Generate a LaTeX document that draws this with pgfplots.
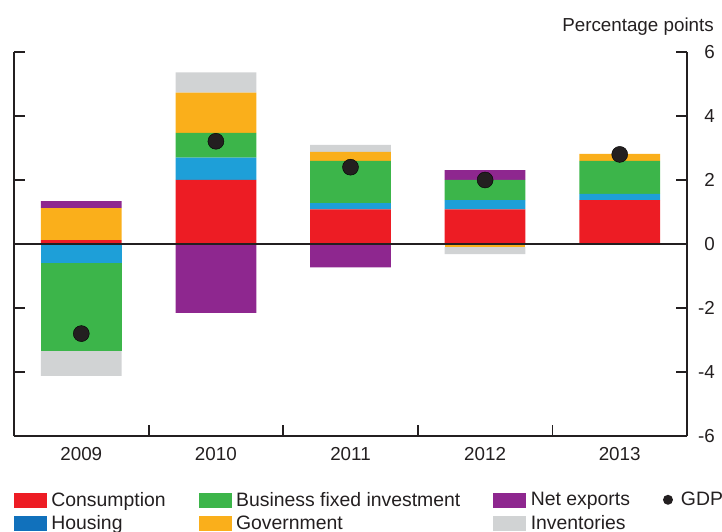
\documentclass[border=0pt]{standalone}
\usepackage{pgfplots}
\pgfplotsset{compat=1.18}
\usepackage{pgfplotstable}
\usepackage{fontspec}
\setmainfont{Liberation Sans}
\definecolor{cRed}{HTML}{ED1C24}
\definecolor{cBlue}{HTML}{1E9FD8}
\definecolor{cBlueL}{HTML}{1171BC}
\definecolor{cGreen}{HTML}{3CB54A}
\definecolor{cOrange}{HTML}{FAAF1B}
\definecolor{cPurple}{HTML}{8E278F}
\definecolor{cGray}{HTML}{D1D3D4}
\definecolor{cDark}{HTML}{231F20}
\newcommand\fs{\fontsize{18.8}{22}\selectfont}
\newcommand\fl{\fontsize{19.4}{22}\selectfont}

% positive contributions (stacked upward)
\pgfplotstableread{
x cons hous bfi gov nx inv
0 0.12 0    0    1.00 0.22 0
1 2.00 0.70 0.77 1.26 0    0.63
2 1.08 0.20 1.32 0.28 0    0.22
3 1.08 0.29 0.63 0    0.31 0
4 1.37 0.20 1.03 0.22 0    0
}\pos
% negative contributions (stacked downward)
\pgfplotstableread{
x cons hous bfi gov nx inv
0 0 -0.58 -2.76 0     0     -0.78
1 0 0     0     0     -2.15 0
2 0 0     0     0     -0.73 0
3 0 0     0     -0.10 0     -0.22
4 0 0     0     0     0     0
}\neg
\pgfplotstableread{
x gdp
0 -2.80
1 3.21
2 2.40
3 2.00
4 2.80
}\gdp

\pgfplotsset{
  base/.style={
    scale only axis, width=673pt, height=384pt,
    at={(14pt,95pt)}, anchor=south west,
    xmin=-0.5, xmax=4.5, ymin=-6, ymax=6,
  },
}

\begin{document}
\begin{tikzpicture}[font=\fs]
\path[use as bounding box] (0,0) rectangle (722pt,531pt);
\begin{axis}[base, ybar stacked, bar width=0.6,
  axis x line*=bottom, axis y line*=box,
  axis line style={line width=1.8pt, cDark},
  tick style={line width=1.8pt, cDark},
  tick align=inside, major tick length=11pt,
  ytick={-6,-4,-2,0,2,4,6},
  yticklabels={-6,-4,-2,0,2,4,6},
  yticklabel pos=right,
  yticklabel style={anchor=east, inner sep=0pt, xshift=28pt, font=\fs, text=cDark},
  xtick={-0.5,0.5,1.5,2.5,3.5,4.5},
  x tick label as interval,
  xticklabels={2009,2010,2011,2012,2013},
  xticklabel style={inner sep=0pt, yshift=-11pt, font=\fs, text=cDark},
  legend columns=4,
  legend cell align=left,
  legend style={draw=none, fill=none, inner sep=0pt, outer sep=0pt,
    at={(0,0)}, anchor=north west, yshift=-56pt, font=\fl, text=cDark,
    row sep=8pt,
    nodes={inner sep=0pt},
    /tikz/every odd column/.append style={column sep=5pt},
    /tikz/every even column/.append style={column sep=33pt}},
]
\addplot[fill=cRed, draw=none, forget plot] table[x=x,y=cons]{\pos};
\addplot[fill=cBlue, draw=none, forget plot] table[x=x,y=hous]{\pos};
\addplot[fill=cGreen, draw=none, forget plot] table[x=x,y=bfi]{\pos};
\addplot[fill=cOrange, draw=none, forget plot] table[x=x,y=gov]{\pos};
\addplot[fill=cPurple, draw=none, forget plot] table[x=x,y=nx]{\pos};
\addplot[fill=cGray, draw=none, forget plot] table[x=x,y=inv]{\pos};

\addlegendimage{legend image code/.code={\fill[cRed] (0pt,-7pt) rectangle (32pt,7pt);}}
\addlegendentry{Consumption}
\addlegendimage{legend image code/.code={\fill[cGreen] (0pt,-7pt) rectangle (32pt,7pt);}}
\addlegendentry{Business fixed investment}
\addlegendimage{legend image code/.code={\fill[cPurple] (0pt,-7pt) rectangle (32pt,7pt);}}
\addlegendentry{Net exports}
\addlegendimage{legend image code/.code={\path[draw=none, fill=none] (0pt,-5pt) rectangle (13pt,5pt); \fill[cDark, draw=none] (5pt,0pt) circle (5pt);}}
\addlegendentry{GDP}
\addlegendimage{legend image code/.code={\fill[cBlueL] (0pt,-7pt) rectangle (32pt,7pt);}}
\addlegendentry{Housing}
\addlegendimage{legend image code/.code={\fill[cOrange] (0pt,-7pt) rectangle (32pt,7pt);}}
\addlegendentry{Government}
\addlegendimage{legend image code/.code={\fill[cGray] (0pt,-7pt) rectangle (32pt,7pt);}}
\addlegendentry{Inventories}
\end{axis}
\begin{axis}[base, ybar stacked, bar width=0.6, hide axis]
\addplot[fill=cRed, draw=none] table[x=x,y=cons]{\neg};
\addplot[fill=cBlue, draw=none] table[x=x,y=hous]{\neg};
\addplot[fill=cGreen, draw=none] table[x=x,y=bfi]{\neg};
\addplot[fill=cOrange, draw=none] table[x=x,y=gov]{\neg};
\addplot[fill=cPurple, draw=none] table[x=x,y=nx]{\neg};
\addplot[fill=cGray, draw=none] table[x=x,y=inv]{\neg};
\end{axis}
\begin{axis}[base, hide axis]
\draw[line width=1.8pt, cDark] (axis cs:-0.5,0) -- (axis cs:4.5,0);
\addplot[only marks, mark=*, mark size=8pt, mark options={fill=cDark, draw=none}] table[x=x,y=gdp]{\gdp};
\end{axis}
\node[anchor=base east, inner sep=0pt, text=cDark] at (714pt,499pt) {Percentage points};
\end{tikzpicture}
\end{document}
